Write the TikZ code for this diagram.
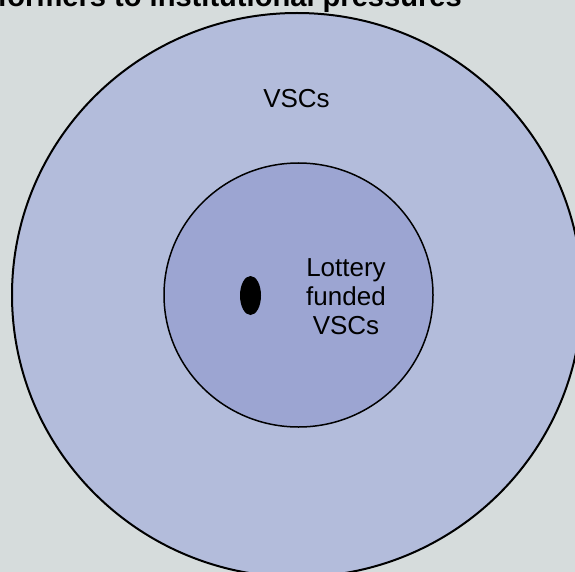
\documentclass[tikz,border=0pt]{standalone}
\usepackage{fontspec}
\setmainfont{Liberation Sans}
\usetikzlibrary{shapes.geometric}

\definecolor{paper}{HTML}{D6DCDC}
\definecolor{outerfill}{HTML}{B3BCDB}
\definecolor{innerfill}{HTML}{9CA5D2}

\tikzset{
  ring/.style={ellipse, draw=black, inner sep=0pt, outer sep=0pt},
  label/.style={inner sep=0pt, text=black, font=\fontsize{26}{29}\selectfont},
  heading/.style={inner sep=0pt, text=black, font=\bfseries\fontsize{29.1}{32}\selectfont},
}

\begin{document}
\begin{tikzpicture}[x=1pt, y=-1pt]
  \useasboundingbox (0,0) rectangle (575,572);
  \clip (0,0) rectangle (575,572);
  \fill[paper] (0,0) rectangle (575,572);

  % heading, cut off by the top edge
  \node[heading, anchor=base east] (title) at (462,7) {formers to institutional pressures};

  % all voluntary sector organisations
  \node[ring, fill=outerfill, line width=2pt,
        minimum width=570pt, minimum height=564pt] (vsc) at (297,295) {};
  \node[label, anchor=base] (vsclabel) at (296.5,107.3) {VSCs};

  % lottery funded subset
  \node[ring, fill=innerfill, line width=1.5pt,
        minimum width=269pt, minimum height=264pt] (lottery) at (298.5,295) {};
  \node[label, align=center] (lotterylabel) at (346,296.7) {Lottery\\funded\\VSCs};

  % the single case
  \node[ellipse, fill=black, inner sep=0pt,
        minimum width=21pt, minimum height=39pt] (dot) at (250.5,295.5) {};
\end{tikzpicture}
\end{document}
